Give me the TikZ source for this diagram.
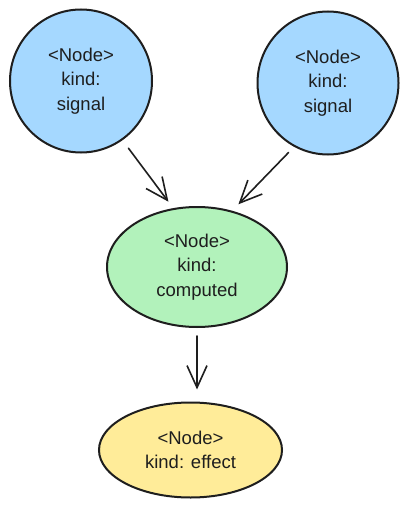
\documentclass[tikz,border=0pt]{standalone}
\usepackage{fontspec}
\setmainfont{Liberation Sans}
\usetikzlibrary{shapes.geometric,arrows.meta}
\definecolor{ink}{HTML}{1E1E1E}
\definecolor{sigblue}{HTML}{A5D8FF}
\definecolor{compgreen}{HTML}{B2F2BB}
\definecolor{effyellow}{HTML}{FFEC99}
\tikzset{
  blob/.style={ellipse, draw=ink, line width=2pt, inner sep=0pt, align=center,
    font=\fontsize{18.5}{24.5}\selectfont, text=ink},
  link/.style={draw=ink, line width=1.6pt, line cap=round,
    -{Straight Barb[length=22pt,width=20pt,line width=1.6pt]}}
}
\begin{document}
\begin{tikzpicture}[x=1pt,y=-1pt]
\fill[white] (0,0) rectangle (408,508);
\useasboundingbox (0,0) rectangle (408,508);
\node[blob, fill=sigblue, minimum width=142pt, minimum height=143pt] (a) at (81,81) {<Node>\\kind:\\signal};
\node[blob, fill=sigblue, minimum width=141pt, minimum height=143pt] (b) at (328,83) {<Node>\\kind:\\signal};
\node[blob, fill=compgreen, minimum width=180pt, minimum height=120pt] (c) at (197,267) {<Node>\\kind:\\computed};
\node[blob, fill=effyellow, minimum width=183pt, minimum height=95pt] (d) at (190.5,450) {<Node>\\kind: effect};
\draw[link, shorten <=10pt, shorten >=8pt] (a.-55) -- (c.112);
\draw[link, shorten <=8pt, shorten >=9pt] (b.-118) -- (c.58);
\draw[link, shorten <=8pt, shorten >=12pt] (c.south) -- (c.south |- d.north);
\end{tikzpicture}
\end{document}
